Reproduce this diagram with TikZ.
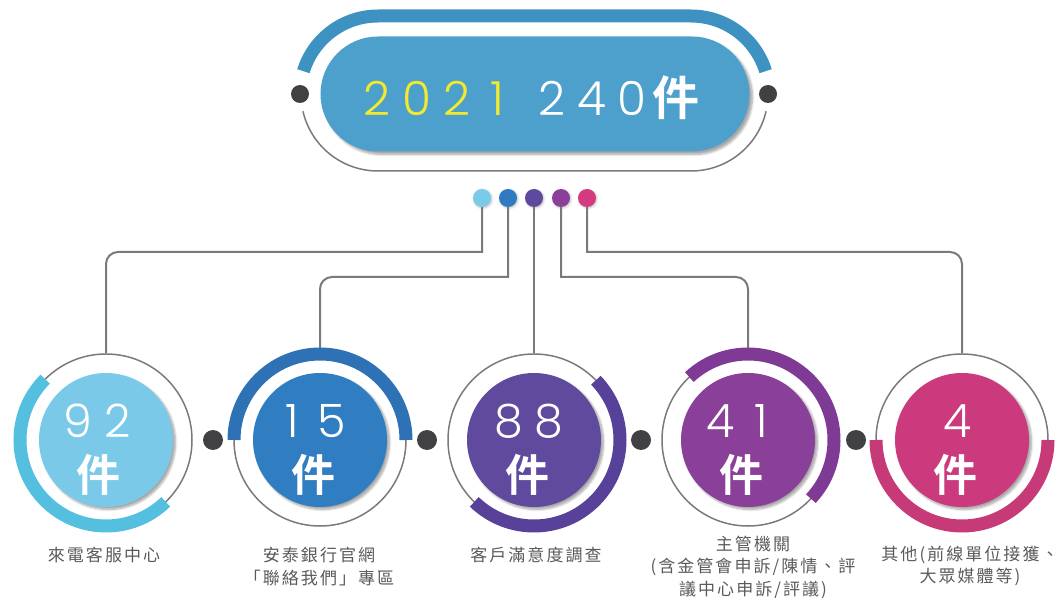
\documentclass[tikz,border=0pt]{standalone}
\usepackage{fontspec}
\setmainfont{Noto Sans CJK TC}
\IfFontExistsTF{Noto Sans CJK TC Bold}{\newfontfamily\boldcjk{Noto Sans CJK TC Bold}}{\newfontfamily\boldcjk{Noto Sans CJK TC}[FakeBold=2]}
\IfFontExistsTF{Poppins Light}{\newfontfamily\thinnum{Poppins Light}}{\newfontfamily\thinnum{Lato}}
\newfontfamily\capfont{Noto Sans CJK TC}[LetterSpace=12]
\newcommand\digitcell[1]{\makebox[40pt]{#1}}
\usetikzlibrary{shapes.misc,shadows.blur}
\definecolor{linegray}{HTML}{7A7A7C}
\definecolor{jointgray}{HTML}{414143}
\definecolor{captiongray}{HTML}{5A5A5A}
\definecolor{numyellow}{HTML}{F2EA2C}
\definecolor{pillblue}{HTML}{4D9FCC}
\definecolor{topband}{HTML}{3D92C2}
\definecolor{fillA}{HTML}{7BC9E8}
\definecolor{fillB}{HTML}{317DC1}
\definecolor{fillC}{HTML}{5F4A9E}
\definecolor{fillD}{HTML}{8A3F98}
\definecolor{fillE}{HTML}{CB3A7C}
\definecolor{bandA}{HTML}{55BFE0}
\definecolor{bandB}{HTML}{2F71B5}
\definecolor{bandC}{HTML}{574199}
\definecolor{bandD}{HTML}{7E3A95}
\definecolor{bandE}{HTML}{C73A78}
\definecolor{pinA}{HTML}{7ACBE9}
\definecolor{pinB}{HTML}{2F7BC2}
\definecolor{pinC}{HTML}{5D4A9F}
\definecolor{pinD}{HTML}{8B3F99}
\definecolor{pinE}{HTML}{D33A80}
\begin{document}
\begin{tikzpicture}[x=1pt,y=1pt,
  link/.style={draw=linegray,line width=2pt},
  ring/.style={draw=linegray,line width=1.5pt,circle,minimum size=172pt,inner sep=0pt},
  band/.style={line width=13pt},
  disc/.style={circle,minimum size=134pt,inner sep=0pt,blur shadow={shadow xshift=2.5pt,shadow yshift=-2.5pt,shadow opacity=35,shadow blur steps=6}},
  pin/.style={circle,minimum size=18pt,inner sep=0pt,blur shadow={shadow xshift=1pt,shadow yshift=-1pt,shadow opacity=25,shadow blur steps=3}},
  joint/.style={circle,fill=jointgray,minimum size=20pt,inner sep=0pt},
  count/.style={text=white,font=\thinnum\fontsize{46}{46}\selectfont,inner sep=0pt},
  unit/.style={text=white,font=\boldcjk\fontsize{44}{44}\selectfont,inner sep=0pt},
  caption/.style={text=captiongray,font=\capfont\fontsize{17}{22.5}\selectfont,align=center,inner sep=0pt}]
\useasboundingbox (0,0) rectangle (1061,598);

\draw[band,draw=topband] (378,504) ++(163:78) arc[start angle=163,end angle=90,radius=78] -- (691,582) arc[start angle=90,end angle=17,radius=78];
\draw[draw=linegray,line width=1.5pt] (691,504) ++(-13:77) arc[start angle=-13,end angle=-90,radius=77] -- (378,427) arc[start angle=-90,end angle=-167,radius=77];
\node[joint,minimum size=18pt] (lt) at (300,504) {};
\node[joint,minimum size=18pt] (rt) at (768,504) {};
\node[rounded rectangle,fill=pillblue,minimum width=429pt,minimum height=115pt,inner sep=0pt,blur shadow={shadow xshift=3pt,shadow yshift=-3pt,shadow opacity=35,shadow blur steps=6}] (total) at (535,504) {};
\node[inner sep=0pt,text=white,font=\thinnum\fontsize{47}{47}\selectfont] (totaltext) at (528,500) {\color{numyellow}\digitcell{2}\digitcell{0}\digitcell{2}\digitcell{1}\hspace{15pt}\color{white}\digitcell{2}\digitcell{4}\digitcell{0}{\boldcjk 件}};

\node[ring] (r1) at (106,158) {};
\node[ring] (r2) at (320,158) {};
\node[ring] (r3) at (534,158) {};
\node[ring] (r4) at (748,158) {};
\node[ring] (r5) at (962,158) {};

\node[pin,fill=pinA] (d1) at (482,400) {};
\node[pin,fill=pinB] (d2) at (508,400) {};
\node[pin,fill=pinC] (d3) at (534,400) {};
\node[pin,fill=pinD] (d4) at (561,400) {};
\node[pin,fill=pinE] (d5) at (587,400) {};

\draw[link] (d1) -- (482,346) [rounded corners=12pt] -- (106,346) -- (r1.north);
\draw[link] (d2) -- (508,321) [rounded corners=12pt] -- (320,321) -- (r2.north);
\draw[link] (d3) -- (r3.north);
\draw[link] (d4) -- (561,321) [rounded corners=12pt] -- (748,321) -- (r4.north);
\draw[link] (d5) -- (587,346) [rounded corners=12pt] -- (962,346) -- (r5.north);

\draw[band,draw=bandA] (r1.center) ++(135:86) arc[start angle=135,end angle=314,radius=86];
\draw[band,draw=bandB] (r2.center) ++(0:86) arc[start angle=0,end angle=180,radius=86];
\draw[band,draw=bandC] (r3.center) ++(-134:86) arc[start angle=-134,end angle=44,radius=86];
\draw[band,draw=bandD] (r4.center) ++(-43:86) arc[start angle=-43,end angle=133,radius=86];
\draw[band,draw=bandE] (r5.center) ++(180:86) arc[start angle=180,end angle=360,radius=86];

\node[disc,fill=fillA] (c1) at (106,158) {};
\node[disc,fill=fillB] (c2) at (320,158) {};
\node[disc,fill=fillC] (c3) at (534,158) {};
\node[disc,fill=fillD] (c4) at (748,158) {};
\node[disc,fill=fillE] (c5) at (962,158) {};

\node[joint] (j1) at (213,158) {};
\node[joint] (j2) at (427,158) {};
\node[joint] (j3) at (641,158) {};
\node[joint] (j4) at (856,158) {};

\node[count] (n1) at (98,177) {\digitcell{9}\digitcell{2}};
\node[count] (n2) at (312,177) {\digitcell{1}\digitcell{5}};
\node[count] (n3) at (529,177) {\digitcell{8}\digitcell{8}};
\node[count] (n4) at (741,177) {\digitcell{4}\digitcell{1}};
\node[count] (n5) at (958,177) {\digitcell{4}};
\node[unit] (u1) at (98,123) {件};
\node[unit] (u2) at (313,123) {件};
\node[unit] (u3) at (527,123) {件};
\node[unit] (u4) at (741,123) {件};
\node[unit] (u5) at (955,123) {件};

\node[caption] (t1) at (104,43) {來電客服中心};
\node[caption] (t2) at (319,31.5) {安泰銀行官網\\「聯絡我們」專區};
\node[caption] (t3) at (536,43) {客戶滿意度調查};
\node[caption] (t4) at (753,31) {主管機關\\(含金管會申訴/陳情、評\\議中心申訴/評議)};
\node[caption] (t5) at (970,32) {其他(前線單位接獲、\\大眾媒體等)};
\end{tikzpicture}
\end{document}
